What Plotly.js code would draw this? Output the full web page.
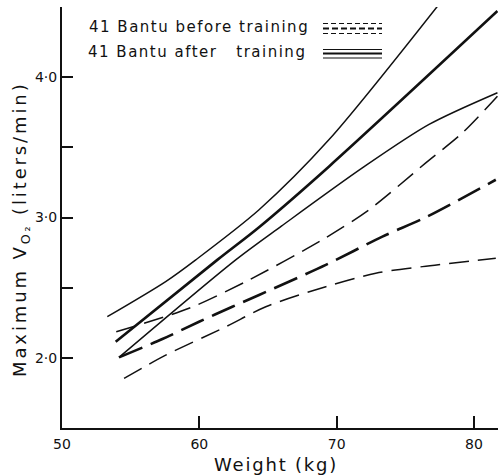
<!DOCTYPE html>
<html>
<head>
<meta charset="utf-8">
<script src="https://cdn.plot.ly/plotly-3.0.1.min.js"></script>
<style>
  html, body { margin: 0; padding: 0; background: #fff; }
  #chart { width: 498px; height: 476px; }
  .annotation-text { letter-spacing: 0.1em; }
  .annotation[data-index="3"] .annotation-text { letter-spacing: 0.16em; }
</style>
</head>
<body>
<div id="chart"></div>
<script>
// ---- Data (weight in kg, max VO2 in liters/min) ----
// After training: upper limit, mean, lower limit (solid)
const afterUpperX = [53.30, 57.55, 59.74, 64.35, 69.45, 77.46];
const afterUpperY = [2.293, 2.543, 2.698, 3.055, 3.555, 4.52];
const afterMeanX  = [53.91, 61.31, 64.35, 69.45, 81.71];
const afterMeanY  = [2.114, 2.698, 2.931, 3.364, 4.471];
const afterLowerX = [54.15, 62.65, 66.0, 71.87, 76.73, 81.71];
const afterLowerY = [2.003, 2.698, 2.94, 3.353, 3.663, 3.889];
// Before training: upper limit, mean, lower limit (dashed)
const beforeUpperX = [53.95, 59.25, 63.38, 68.96, 72.36, 76.49, 79.16, 81.71];
const beforeUpperY = [2.186, 2.353, 2.543, 2.841, 3.055, 3.389, 3.603, 3.864];
const beforeMeanX  = [54.15, 57.31, 59.98, 62.40, 64.35, 69.21, 73.33, 76.61, 81.59];
const beforeMeanY  = [2.003, 2.134, 2.257, 2.364, 2.448, 2.662, 2.864, 3.007, 3.269];
const beforeLowerX = [54.52, 57.55, 61.92, 64.84, 69.21, 72.85, 76.25, 81.59];
const beforeLowerY = [1.853, 2.019, 2.221, 2.364, 2.507, 2.603, 2.650, 2.710];

const xTickVals = [50, 60, 70, 80];
const xTickText = ["50", "60", "70", "80"];
const yTickVals = [2.0, 3.0, 4.0];
const yTickText = ["2·0", "3·0", "4·0"];

const legendLabels = ["41 Bantu before training", "41 Bantu after\u00a0\u00a0\u00a0training"];
const xTitle = "Weight (kg)";
const yTitle = "Maximum V<sub>O₂</sub> (liters/min)";

// ---- Styling ----
const INK = "#111";
const FONT = "DejaVu Sans, sans-serif";
const thin = 1.5, thick = 2.6;
const thinDash = "20px,9px", thickDash = "25px,9px";

function tr(x, y, w, dash) {
  return {
    type: "scatter", mode: "lines", x: x, y: y, showlegend: false, hoverinfo: "skip",
    line: { color: INK, width: w, dash: dash, shape: "spline", smoothing: 0.8 }
  };
}

const data = [
  tr(afterUpperX, afterUpperY, thin, "solid"),
  tr(afterMeanX, afterMeanY, thick, "solid"),
  tr(afterLowerX, afterLowerY, thin, "solid"),
  tr(beforeUpperX, beforeUpperY, thin, thinDash),
  tr(beforeMeanX, beforeMeanY, thick, thickDash),
  tr(beforeLowerX, beforeLowerY, thin, thinDash)
];

// plot area geometry in px (for paper-coordinate placement of legend/titles)
const L = 62, T = 7, W = 436, H = 421;
const px = v => (v - L) / W;
const py = v => (T + H - v) / H;

function seg(y, w, dash) {
  return { type: "line", xref: "paper", yref: "paper",
    x0: px(323), x1: px(382), y0: py(y), y1: py(y),
    line: { color: INK, width: w, dash: dash } };
}

const shapes = [
  seg(23.5, 1.2, "5px,3px"), seg(28.5, 1.8, "6px,3px"), seg(33.5, 1.2, "5px,3px"),
  seg(49.5, 1.2, "solid"), seg(53.5, 1.8, "solid"), seg(58, 1.2, "solid")
];

const annotations = [
  { text: legendLabels[0], xref: "paper", yref: "paper", x: px(87), y: py(27),
    xanchor: "left", yanchor: "middle", showarrow: false, font: { family: FONT, size: 15, color: INK } },
  { text: legendLabels[1], xref: "paper", yref: "paper", x: px(86), y: py(52),
    xanchor: "left", yanchor: "middle", showarrow: false, font: { family: FONT, size: 15, color: INK } },
  { text: xTitle, xref: "paper", yref: "paper", x: px(276), y: py(464),
    xanchor: "center", yanchor: "middle", showarrow: false, font: { family: FONT, size: 18, color: INK } },
  { text: yTitle, xref: "paper", yref: "paper", x: px(21), y: py(229), textangle: -90,
    xanchor: "center", yanchor: "middle", showarrow: false, font: { family: FONT, size: 18, color: INK } }
];

const layout = {
  width: 498, height: 476,
  margin: { l: L, r: 0, t: T, b: 476 - T - H },
  paper_bgcolor: "#fff", plot_bgcolor: "#fff",
  showlegend: false,
  xaxis: {
    range: [50, 81.75], showgrid: false, zeroline: false,
    showline: true, linecolor: INK, linewidth: 2,
    ticks: "inside", ticklen: 12, tickwidth: 2, tickcolor: INK,
    tickmode: "array", tickvals: xTickVals, ticktext: xTickText,
    ticklabelstandoff: 2,
    tickfont: { family: FONT, size: 14, color: INK }
  },
  yaxis: {
    range: [1.5, 4.5], showgrid: false, zeroline: false,
    showline: true, linecolor: INK, linewidth: 2,
    ticks: "inside", ticklen: 11, tickwidth: 2, tickcolor: INK,
    tickmode: "array", tickvals: yTickVals, ticktext: yTickText,
    minor: { ticks: "inside", ticklen: 11, tickwidth: 2, tickcolor: INK, tick0: 1.5, dtick: 0.5, showgrid: false },
    tickfont: { family: FONT, size: 14, color: INK }
  },
  shapes: shapes,
  annotations: annotations
};

Plotly.newPlot("chart", data, layout, { staticPlot: true, displayModeBar: false });
</script>
</body>
</html>
